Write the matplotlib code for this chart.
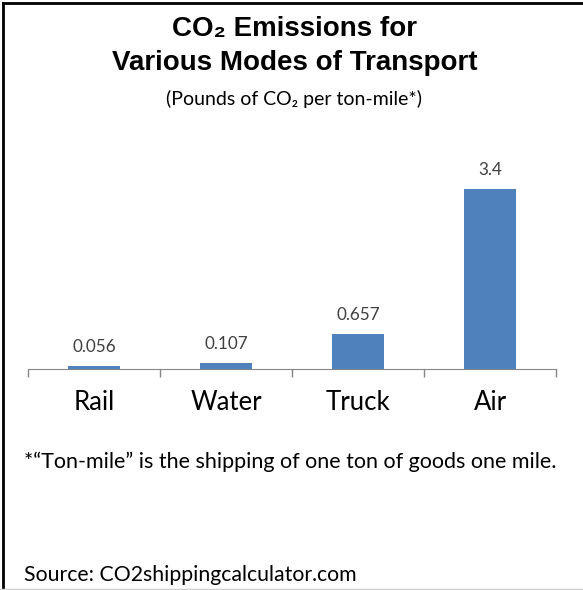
import numpy as np
import matplotlib.pyplot as plt
from matplotlib.lines import Line2D

modes = ['Rail', 'Water', 'Truck', 'Air']
emissions = [0.056, 0.107, 0.657, 3.4]
value_labels = ['0.056', '0.107', '0.657', '3.4']

fig = plt.figure(figsize=(5.83, 5.90), dpi=100)
ax = fig.add_axes([28 / 583, (590 - 369) / 590, 528 / 583, 212 / 590])

x = np.arange(len(modes))
bars = ax.bar(x, emissions, width=0.4, color='#4F81BD')
ax.bar_label(bars, labels=value_labels, padding=8, fontsize=12.3,
             color='#404040', family=['Lato', 'DejaVu Sans'])

ax.set_xlim(-0.5, len(modes) - 0.5)
ax.set_ylim(0, 4)
ax.set_xticks(x)
ax.set_xticklabels(modes, fontsize=18.5, family=['Lato', 'DejaVu Sans'])
ax.tick_params(axis='x', which='major', length=0, pad=15)
ax.set_xticks(np.arange(-0.5, len(modes)), minor=True)
ax.tick_params(axis='x', which='minor', length=6, color='#868686', width=1)
ax.set_yticks([])
for s in ['top', 'right', 'left']:
    ax.spines[s].set_visible(False)
ax.spines['bottom'].set_color('#868686')

# Titel und Texte
title_font = ['Liberation Sans', 'DejaVu Sans']
fig.text(0.505, 1 - 29 / 590, 'CO₂ Emissions for', ha='center', va='center',
         fontsize=20, fontweight='bold', family=title_font)
fig.text(0.505, 1 - 63 / 590, 'Various Modes of Transport', ha='center', va='center',
         fontsize=20, fontweight='bold', family=title_font)
fig.text(0.505, 1 - 99 / 590, '(Pounds of CO₂ per ton-mile*)', ha='center', va='center',
         fontsize=14, family=['Lato', 'DejaVu Sans'])
fig.text(24 / 583, 1 - 462 / 590,
         '*\u201cTon-mile\u201d is the shipping of one ton of goods one mile.',
         ha='left', va='center', fontsize=15.5, family=['Lato', 'DejaVu Sans'])
fig.text(24 / 583, 1 - 575 / 590, 'Source: CO2shippingcalculator.com',
         ha='left', va='center', fontsize=15.3, family=['Lato', 'DejaVu Sans'])

# Rahmen
fig.add_artist(Line2D([3 / 583, 1], [1 - 3 / 590, 1 - 3 / 590], color='black', lw=2))
fig.add_artist(Line2D([3 / 583, 3 / 583], [0, 1 - 3 / 590], color='black', lw=2))
fig.add_artist(Line2D([0, 1], [1 / 590, 1 / 590], color='#d0d0d0', lw=1))

fig.savefig('out.png', dpi=100)
